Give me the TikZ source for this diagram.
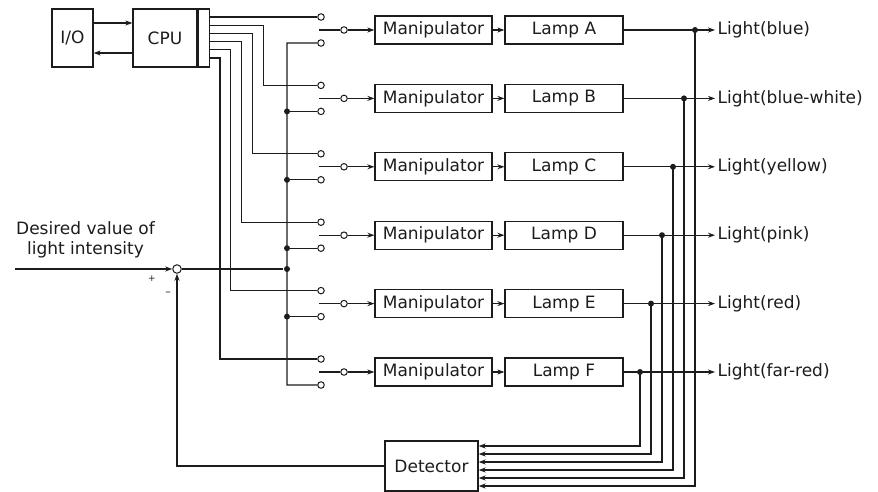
\documentclass[tikz,border=0pt]{standalone}
\usepackage{fontspec}
\setsansfont{DejaVu Sans}
\usepackage{tikz}
\usetikzlibrary{arrows.meta,positioning,calc}
\definecolor{dink}{HTML}{1C1C1C}

\begin{document}
\begin{tikzpicture}[x=1pt,y=-1pt,line width=1.3pt,
  every node/.style={font=\sffamily\fontsize{17}{20}\selectfont,text=dink},
  blk/.style={draw=dink,minimum height=28pt,inner sep=0pt},
  contact/.style={circle,draw=dink,fill=white,line width=1pt,minimum size=6.5pt,inner sep=0pt},
  jdot/.style={circle,fill=dink,minimum size=6pt,inner sep=0pt},
  wire/.style={draw=dink},
  arr/.style={wire,-{Stealth[length=7pt,width=5pt]}}]
  \useasboundingbox (0,0) rectangle (878,492);

  % computer side
  \node[blk,minimum width=41pt,minimum height=58pt] (io) at (72.5,38) {I/O};
  \node[blk,minimum width=64pt,minimum height=58pt] (cpu) at (165,38) {CPU};
  \node[blk,minimum width=11pt,minimum height=58pt,anchor=west] (port) at (cpu.east) {};
  \draw[arr] (io.east |- 0,23) -- (cpu.west |- 0,23);
  \draw[arr] (cpu.west |- 0,53) -- (io.east |- 0,53);

  % feedback loop
  \node[blk,minimum width=93pt,minimum height=50pt] (det) at (431.5,466) {Detector};
  \node[contact,minimum size=8.5pt] (sum) at (177,269) {};
  \coordinate (ref) at (15,269);
  \node[align=center] (want) at (85.5,240) {Desired value of\\light intensity};
  \node[font=\sffamily\fontsize{9}{9}\selectfont] (plus) at (152,279) {+};
  \node[font=\sffamily\fontsize{11}{11}\selectfont] (minus) at (168,294) {–};
  \node[jdot] (sp) at (287,269) {};
  \draw[arr] (ref) -- (sum);
  \draw[arr] (det.west) -| (sum);
  \draw[wire] (sum) -- (sp);

  % six lamp channels
  \foreach \k/\lamp/\hue in {0/A/blue,1/B/blue-white,2/C/yellow,3/D/pink,4/E/red,5/F/far-red}{
    \pgfmathsetmacro\yr{30+68.4*\k}
    \pgfmathsetmacro\yu{\yr-13}
    \pgfmathsetmacro\yl{\yr+13}
    \pgfmathsetmacro\yc{17+8.2*\k}
    \pgfmathsetmacro\xc{274-10.8*\k}
    \pgfmathsetmacro\xt{695-11*\k}
    \pgfmathsetmacro\yd{486-8*\k}
    \node[contact] (u\k) at (321,\yu) {};
    \node[contact] (l\k) at (321,\yl) {};
    \coordinate (ws\k) at (319,\yr);
    \node[contact] (w\k) at (344,\yr) {};
    \node[blk,minimum width=117pt] (m\k) at (433.5,\yr) {Manipulator};
    \node[blk,minimum width=118pt] (lp\k) at (564,\yr) {Lamp \lamp};
    \node[anchor=west,inner sep=2pt] (out\k) at (715,\yr) {Light(\hue)};
    \node[jdot] (tap\k) at (\xt,\yr) {};
    \draw[wire] (port.east |- 0,\yc) -| (\xc,\yu) -- (u\k);
    \draw[wire] (ws\k) -- (w\k);
    \draw[arr] (w\k) -- (m\k);
    \draw[arr] (m\k) -- (lp\k);
    \draw[arr] (lp\k) -- (out\k);
    \draw[arr] (tap\k.center) |- (det.east |- 0,\yd);
  }

  % set-point bus
  \draw[wire] (l0) -| (287,385) -- (l5);
  \foreach \k in {1,...,4}{
    \pgfmathsetmacro\yl{43+68.4*\k}
    \node[jdot] (b\k) at (287,\yl) {};
    \draw[wire] (b\k.center) -- (l\k);
  }
\end{tikzpicture}
\end{document}
